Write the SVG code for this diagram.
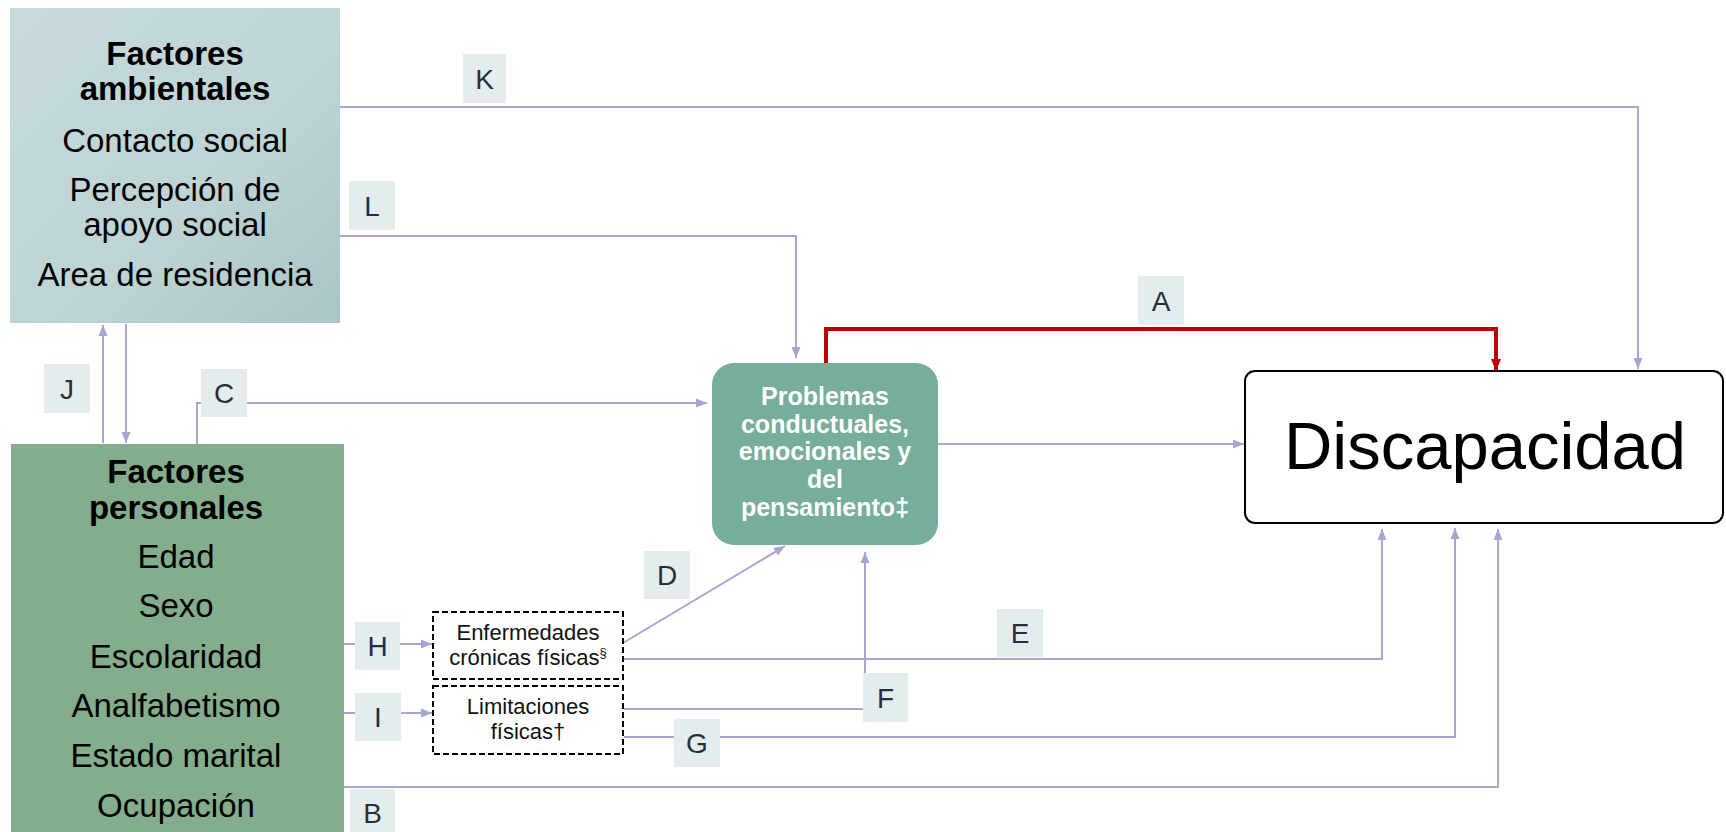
<svg xmlns="http://www.w3.org/2000/svg" width="1726" height="832" viewBox="0 0 1726 832">
<defs>
<linearGradient id="gAmb" x1="0" y1="0" x2="1" y2="1">
<stop offset="0" stop-color="#c7dbdc"/>
<stop offset="0.6" stop-color="#bdd3d4"/>
<stop offset="1" stop-color="#aac5c7"/>
</linearGradient>
<marker id="arr" markerUnits="userSpaceOnUse" markerWidth="12" markerHeight="10" refX="11" refY="5" orient="auto">
<path d="M0,0.5 L11,5 L0,9.5 z" fill="#a6a6d2"/>
</marker>
<marker id="arrR" markerUnits="userSpaceOnUse" markerWidth="12" markerHeight="11" refX="12" refY="5.5" orient="auto">
<path d="M0,0.5 L12,5.5 L0,10.5 z" fill="#c00000"/>
</marker>
<style>
.t{font-family:"Liberation Sans",Arial,sans-serif;fill:#000;text-anchor:middle}
.big{font-size:33px}
.bold{font-weight:bold}
.pw{font-family:"Liberation Sans",Arial,sans-serif;font-size:25px;font-weight:bold;fill:#fff;text-anchor:middle}
.sm{font-family:"Liberation Sans",Arial,sans-serif;font-size:22px;fill:#111;text-anchor:middle}
.c{fill:none;stroke:#a6a6d2;stroke-width:2;marker-end:url(#arr)}
.cn{fill:none;stroke:#a6a6d2;stroke-width:2}
.lb rect{fill:#e4ecee}
.lb text{font-family:"Liberation Sans",Arial,sans-serif;font-size:28px;fill:#26303b;text-anchor:middle}
</style>
</defs>
<rect width="1726" height="832" fill="#fff"/>

<g id="connectors">
<path class="c" d="M340 107 H1638 V369"/>
<path class="c" d="M340 236 H796 V358"/>
<path d="M826 363 V329 H1496 V371" fill="none" stroke="#c00000" stroke-width="4" marker-end="url(#arrR)"/>
<path class="c" d="M197 444 V403 H707"/>
<path class="c" d="M938 444 H1244"/>
<path class="c" d="M103 443 V325"/>
<path class="c" d="M126 324 V443"/>
<path class="c" d="M344 644 H432"/>
<path class="c" d="M344 713 H432"/>
<path class="c" d="M623 643 L785 546"/>
<path class="c" d="M624 659 H1382 V529"/>
<path class="c" d="M624 709 H865 V552"/>
<path class="c" d="M624 737 H1455 V528"/>
<path class="c" d="M344 787 H1498 V529"/>
</g>

<g id="ambientales">
<rect x="10" y="8" width="330" height="315" fill="url(#gAmb)"/>
<text class="t big bold" x="175" y="65">Factores</text>
<text class="t big bold" x="175" y="100">ambientales</text>
<text class="t big" x="175" y="152">Contacto social</text>
<text class="t big" x="175" y="201">Percepción de</text>
<text class="t big" x="175" y="236">apoyo social</text>
<text class="t big" x="175" y="286">Area de residencia</text>
</g>

<g id="personales">
<rect x="11" y="444" width="333" height="400" fill="#84ad8e"/>
<text class="t big bold" x="176" y="483">Factores</text>
<text class="t big bold" x="176" y="519">personales</text>
<text class="t big" x="176" y="568">Edad</text>
<text class="t big" x="176" y="617">Sexo</text>
<text class="t big" x="176" y="668">Escolaridad</text>
<text class="t big" x="176" y="717">Analfabetismo</text>
<text class="t big" x="176" y="767">Estado marital</text>
<text class="t big" x="176" y="817">Ocupación</text>
</g>

<g id="problemas">
<rect x="712" y="363" width="226" height="182" rx="22" ry="22" fill="#76ae9b"/>
<text class="pw" x="825" y="405">Problemas</text>
<text class="pw" x="825" y="433">conductuales,</text>
<text class="pw" x="825" y="460">emocionales y</text>
<text class="pw" x="825" y="488">del</text>
<text class="pw" x="825" y="516">pensamiento‡</text>
</g>

<g id="discapacidad">
<rect x="1245" y="371" width="478" height="152" rx="10" ry="10" fill="#fff" stroke="#000" stroke-width="2"/>
<text class="t" x="1485" y="469" font-size="67">Discapacidad</text>
</g>

<g id="enfermedades">
<rect x="433" y="612" width="190" height="67" fill="#fff" stroke="#000" stroke-width="2" stroke-dasharray="6 3"/>
<text class="sm" x="528" y="640">Enfermedades</text>
<text class="sm" x="528" y="665">crónicas físicas<tspan font-size="13" dy="-8">§</tspan></text>
</g>

<g id="limitaciones">
<rect x="433" y="686" width="190" height="68" fill="#fff" stroke="#000" stroke-width="2" stroke-dasharray="6 3"/>
<text class="sm" x="528" y="714">Limitaciones</text>
<text class="sm" x="528" y="739">físicas†</text>
</g>

<g id="labels" class="lb">
<rect x="463" y="54" width="43" height="49"/><text x="484.5" y="89">K</text>
<rect x="349" y="181" width="46" height="49"/><text x="372" y="216">L</text>
<rect x="1138" y="276" width="46" height="49"/><text x="1161" y="311">A</text>
<rect x="44" y="364" width="46" height="49"/><text x="67" y="399">J</text>
<rect x="201" y="369" width="46" height="48"/><text x="224" y="403">C</text>
<rect x="644" y="551" width="46" height="48"/><text x="667" y="585">D</text>
<rect x="355" y="622" width="45" height="48"/><text x="377.5" y="656">H</text>
<rect x="997" y="609" width="46" height="48"/><text x="1020" y="643">E</text>
<rect x="863" y="673" width="45" height="49"/><text x="885.5" y="708">F</text>
<rect x="355" y="693" width="46" height="48"/><text x="378" y="727">I</text>
<rect x="674" y="719" width="46" height="48"/><text x="697" y="753">G</text>
<rect x="350" y="789" width="45" height="48"/><text x="372.5" y="823">B</text>
</g>
</svg>
